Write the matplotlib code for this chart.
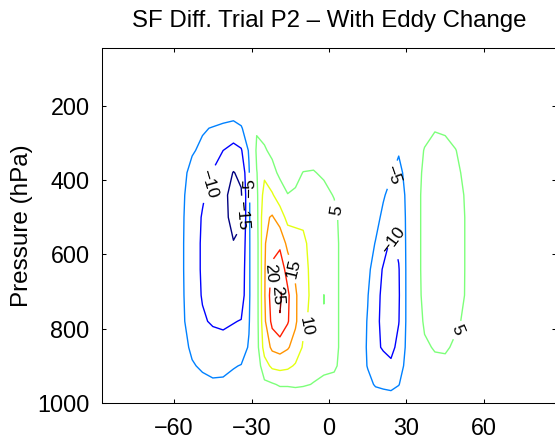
import numpy as np
import matplotlib
matplotlib.use('Agg')
import matplotlib.pyplot as plt

plt.rcParams['font.family'] = ['Liberation Sans', 'DejaVu Sans']

# latitude columns (deg) and pressure rows (hPa) of the streamfunction difference
lat = [-88, -62, -57, -53, -49, -45, -41, -37, -34, -31, -28, -25, -22, -19, -16, -13, -10, -6, -2,
       2, 6, 11, 15, 18, 21, 24, 27, 30, 33, 37, 41, 45, 49, 53, 57, 62, 88]
pres = [45, 200, 260, 320, 380, 440, 500, 570, 640, 710, 780, 850, 900, 950, 1000]

sf_45 = [0, 0, 0, 0, 0, 0, 0, 0, 0, 0, 0, 0, 0, 0, 0, 0, 0, 0, 0,
         0, 0, 0, 0, 0, 0, 0, 0, 0, 0, 0, 0, 0, 0, 0, 0, 0, 0]
sf_200 = [0, 0, 0, 0, 0, -0.5, -1.5, -1, -1, 0, 0, 1, 0.5, 0, 0, 0, 0, 0, 0,
          0, 0, 0, 0, 0, 0, 0, 0, 0, 0, 0, 0.5, 0.5, 0, 0, 0, 0, 0]
sf_260 = [0, 0, -1.5, -2.5, -4.5, -5.3, -6, -7, -5.5, -2, 4.5, 3.5, 2.5, 1.5, 1, 1, 1, 1, 0.5,
          0, 0, 0, 0, 0, 0, 0, -1.5, 0, 0, 2, 4.5, 4, 2.5, 1, 0.5, 0, 0]
sf_320 = [0, 0, -2.5, -4.5, -6, -8, -10, -11.5, -10.5, -4.5, 6, 5.5, 4, 3.5, 2.5, 2.5, 3, 3.5, 2.5,
          1.5, 0.5, 0, 0, 0, -0.5, -1.5, -4.5, -2, 0, 5.5, 7.5, 7, 5.2, 2.5, 1, 0, 0]
sf_380 = [0, 0, -3.5, -6.5, -8, -10.3, -12.5, -15.2, -14, -5.5, 4.8, 9, 6.5, 4, 3.5, 4, 5.1, 5.2, 4.5,
          3, 1.5, 0, 0, -1, -2, -4.5, -6.5, -3.5, 0, 7, 8.5, 8.5, 6.5, 3.5, 1.5, 0, 0]
sf_440 = [0, 0, -4, -7.5, -9.5, -11.5, -13.5, -17, -15.5, -6, 4, 12, 10.5, 7.5, 5.1, 5.5, 7, 7, 6,
          4.8, 2.5, 0, -1, -2, -4.5, -6.5, -7.5, -4.3, 0, 8, 9, 9, 7, 4.5, 2, 0, 0]
sf_500 = [0, 0, -4.2, -8, -10.3, -12, -13.5, -16.5, -15.5, -6, 3.5, 14, 15.5, 12.5, 8.5, 9, 9.5, 8, 7,
          6, 3, -0.5, -2, -3.5, -6, -8, -8, -4.5, 0, 8, 9, 9, 7.5, 4.7, 2, 0, 0]
sf_570 = [0, 0, -4.3, -8.2, -10.5, -12, -13.5, -14.8, -14, -6, 3, 14.5, 18, 19, 13.5, 11.5, 10.5, 9, 7.5,
          6.5, 3, -0.5, -3, -5.2, -7.5, -11, -9, -4.5, 0, 8, 9, 9, 7.5, 4.7, 2, 0, 0]
sf_640 = [0, 0, -4.3, -8.2, -10.5, -12, -13, -13.5, -13, -6, 3, 14.5, 21, 23, 18, 14, 11, 9, 7,
          6.5, 3, -1, -4, -7, -10.5, -12, -10.3, -4.5, 0, 8, 9, 9, 7.5, 4.7, 2, 0, 0]
sf_710 = [0, 0, -4.2, -8, -10.3, -11.5, -12.5, -12.5, -12.5, -6, 3, 14.5, 23, 26, 21, 15.8, 11.3, 9, 4.95,
          6.5, 3, -1.5, -4.8, -8.5, -11, -12.5, -10.5, -4.5, 0, 7.5, 8.5, 8.5, 7, 4.7, 2, 0, 0]
sf_780 = [0, 0, -4, -7.5, -9.5, -10.5, -11, -10.2, -9.8, -5.5, 3, 14, 21.5, 24.5, 20.5, 15.8, 11, 8.5, 5.1,
          6.5, 3, -2, -5.3, -9, -11, -12.5, -10.2, -4.5, 0, 6, 7.5, 7.5, 6, 4, 1.5, 0, 0]
sf_850 = [0, 0, -3, -6, -7.5, -8, -8, -8, -7.5, -4.5, 3, 12, 16, 17, 15.5, 13, 9.5, 7.5, 6.5,
          6.5, 3, -2, -5.5, -9, -10.5, -11.5, -8.5, -4.3, 0, 4, 5.5, 5.8, 4, 2.5, 1, 0, 0]
sf_900 = [0, 0, -2, -4.5, -5.8, -6.5, -6.5, -5.3, -4.8, -3, 2, 8, 11, 11.5, 11, 9.5, 8, 6.5, 6,
          6, 2.5, -1.5, -5.3, -7, -8, -9, -7, -3.8, 0, 2.5, 3.5, 3.5, 2.5, 1.5, 0.5, 0, 0]
sf_950 = [0, 0, -1, -2.5, -3.5, -4.2, -4, -3.5, -2.5, -1, 0.5, 4, 4.5, 5.5, 5.5, 5.8, 5.5, 4.8, 4,
          3, 1, -1, -3.5, -5.5, -6, -6.5, -5.2, -2.5, 0, 1, 1.5, 1.5, 1, 0.5, 0, 0, 0]
sf_1000 = [0, 0, 0, -0.5, -1, -1, -1, -1, -0.5, 0, 0, 1, 1, 1, 1, 1, 1, 1, 0.5,
           0, 0, 0, -1, -1.5, -2, -2, -1.5, -0.5, 0, 0, 0, 0, 0, 0, 0, 0, 0]

levels = [-15, -10, -5, 5, 10, 15, 20, 25]
xticks = [-60, -30, 0, 30, 60]
yticks = [200, 400, 600, 800, 1000]

sf = np.array([sf_45, sf_200, sf_260, sf_320, sf_380, sf_440, sf_500, sf_570,
               sf_640, sf_710, sf_780, sf_850, sf_900, sf_950, sf_1000])

fig = plt.figure(figsize=(5.55, 4.41), dpi=100)
ax = fig.add_axes([102 / 555, 38 / 441, 454 / 555, 355 / 441])

cs = ax.contour(lat, pres, sf, levels=levels, cmap='jet', linewidths=1.0)

# label spots, roughly where the original labels sit
spots = [(-46, 411), (-35, 495), (-30.8, 420), (2, 482), (-15.3, 642), (-22.2, 650),
         (-20.5, 712), (-7.5, 797), (24, 384), (24.7, 562), (50.5, 806)]
ax.clabel(cs, manual=spots, fontsize=12.5, inline=True, colors='k',
          fmt=lambda v: ('%d' % v).replace('-', '\u2212'))

ax.set_xlim(-87.9, 87.9)
ax.set_ylim(1000, 44)
ax.set_xticks(xticks)
ax.set_yticks(yticks)
ax.tick_params(direction='in', top=True, right=True, length=3, width=0.75, labelsize=16.8)
ax.tick_params(axis='x', pad=10)
ax.tick_params(axis='y', pad=9)
for s in ax.spines.values():
    s.set_linewidth(0.75)

ax.set_ylabel('Pressure (hPa)', fontsize=17.5)
ax.yaxis.set_label_coords(-0.152, 0.5)
ax.set_title('SF Diff. Trial P2 \u2013 With Eddy Change', fontsize=17.3, pad=15)

fig.savefig('out.png', dpi=100)
